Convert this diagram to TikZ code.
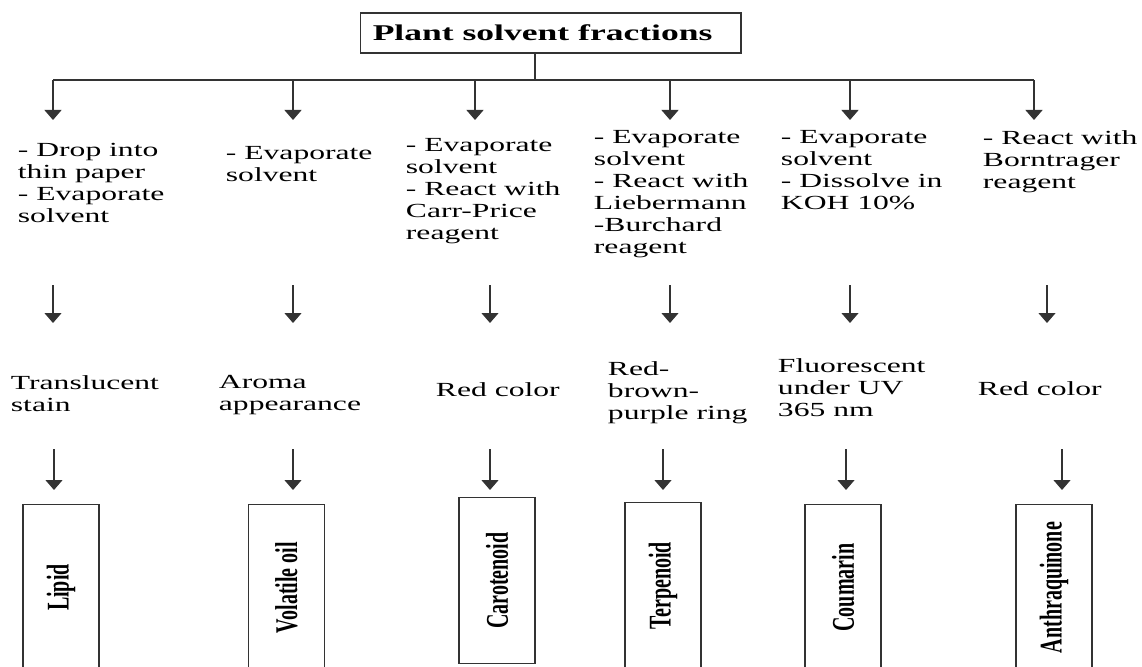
\documentclass[tikz,border=0pt]{standalone}
\usepackage{fontspec}
\setmainfont{Liberation Serif}
\usetikzlibrary{arrows.meta}

\tikzset{
  arr/.style={-{Triangle[width=17pt,length=10pt]}},
  howto/.style={xscale=1.58, anchor=north west, inner sep=0pt, align=left,
    font=\fontsize{20}{22}\selectfont},
  titlebox/.style={draw, xscale=1.58, minimum width=241pt, minimum height=40pt,
    inner sep=0pt, font=\bfseries\fontsize{22.5}{24}\selectfont},
  compound/.style={draw, xscale=1.58, rotate=90, anchor=east, minimum width=166pt,
    minimum height=48pt, inner sep=0pt, font=\bfseries\fontsize{20}{22}\selectfont}
}

\begin{document}
\begin{tikzpicture}[x=1pt, y=-1pt, line width=1.2pt, draw=black!80]
\useasboundingbox (0,0) rectangle (1142,666);
\clip (0,0) rectangle (1142,666);

\node[titlebox] (title) at (550.5,33) {Plant solvent fractions\hspace*{10pt}};
\coordinate (hub) at (535,80);

% arrow positions of the six columns
\foreach \n/\xa/\xb/\xc in {1/53/53/54, 2/293/293/293, 3/475/490/490,
    4/670/670/663, 5/850/850/846, 6/1034/1047/1062} {
  \coordinate (b\n) at (\xa,80);
  \coordinate (e\n) at (\xa,120);
  \coordinate (m\n) at (\xb,285);
  \coordinate (n\n) at (\xb,323);
  \coordinate (r\n) at (\xc,449);
  \coordinate (s\n) at (\xc,490);
}

% tests
\node[howto] (t1) at (17,143) {- Drop into\\thin paper\\- Evaporate\\solvent};
\node[howto] (t2) at (225,146) {- Evaporate\\solvent};
\node[howto] (t3) at (405,138) {- Evaporate\\solvent\\- React with\\Carr-Price\\reagent};
\node[howto] (t4) at (593,130) {- Evaporate\\solvent\\- React with\\Liebermann\\-Burchard\\reagent};
\node[howto] (t5) at (780,130) {- Evaporate\\solvent\\- Dissolve in\\KOH 10\%};
\node[howto] (t6) at (982,130) {- React with\\Borntrager\\reagent};

% results
\node[howto] (res1) at (10,375) {Translucent\\stain};
\node[howto] (res2) at (218,375) {Aroma\\appearance};
\node[howto] (res3) at (435,382) {Red color};
\node[howto] (res4) at (607,361) {Red-\\brown-\\purple ring};
\node[howto] (res5) at (777,358) {Fluorescent\\under UV\\365 nm};
\node[howto] (res6) at (977,381) {Red color};

% compounds
\node[compound] (lipid) at (61,504) {Lipid};
\node[compound] (oil) at (286.5,504) {Volatile oil};
\node[compound] (carot) at (497,497) {Carotenoid};
\node[compound] (terp) at (663,502) {Terpenoid};
\node[compound] (coum) at (843,504) {Coumarin};
\node[compound] (anth) at (1054,504) {Anthraquinone};

\draw (title.south -| hub) -- (hub);
\draw (b1) -- (b6);
\foreach \n in {1,...,6} {
  \draw[arr] (b\n) -- (e\n);
  \draw[arr] (m\n) -- (n\n);
  \draw[arr] (r\n) -- (s\n);
}
\end{tikzpicture}
\end{document}
